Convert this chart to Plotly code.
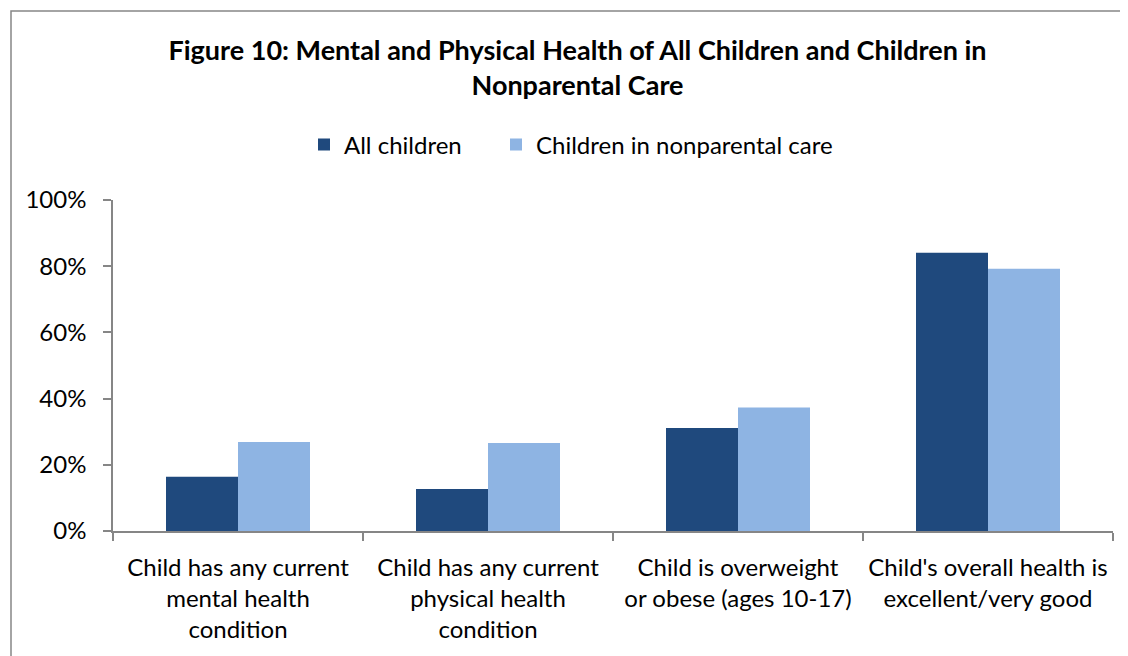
import plotly.graph_objects as go

categories = [
    "Child has any current<br>mental health<br>condition",
    "Child has any current<br>physical health<br>condition",
    "Child is overweight<br>or obese (ages 10-17)",
    "Child's overall health is<br>excellent/very good",
]
all_children = [0.164, 0.127, 0.311, 0.841]
nonparental = [0.269, 0.266, 0.373, 0.792]
series_names = ["All children", "Children in nonparental care"]
colors = ["#1F497D", "#8EB4E3"]
y_ticks = [0, 0.2, 0.4, 0.6, 0.8, 1.0]
y_tick_text = ["0%", "20%", "40%", "60%", "80%", "100%"]
title_text = "Figure 10: Mental and Physical Health of All Children and Children in<br>Nonparental Care"

FONT = "Lato"
AXIS = "#868686"
OFF = 8  # page body margin

fig = go.Figure()
legend_ids = ["legend", "legend2"]
for name, vals, col, lg in zip(series_names, [all_children, nonparental], colors, legend_ids):
    fig.add_trace(go.Bar(x=categories, y=vals, name=name, marker_color=col,
                         marker_line_width=0, legend=lg, showlegend=True))

W, H = 1128, 656
# target screen coords of plot area: x 113-1113, y 200-531
L = 113 - OFF
T = 200 - OFF
R = W - (1113 - OFF)
B = H - (531 - OFF)
pw, ph = W - L - R, H - T - B

def px(xs):
    return (xs - OFF - L) / pw

def py(ys):
    return (H - B - (ys - OFF)) / ph

legend_style = dict(orientation="h", xanchor="left", yanchor="middle",
                    font=dict(family=FONT, size=24), bgcolor="rgba(0,0,0,0)")

fig.update_layout(
    width=W, height=H,
    showlegend=True,
    margin=dict(l=L, r=R, t=T, b=B, autoexpand=False),
    paper_bgcolor="white", plot_bgcolor="white",
    font=dict(family=FONT, size=24, color="#000000"),
    barmode="group", bargap=0.424, bargroupgap=0,
    title=dict(text="<b>" + title_text + "</b>", x=px(577.5), xanchor="center",
               xref="paper", y=1 - 52 / H, yanchor="middle",
               font=dict(family=FONT, size=27, color="#000000")),
    legend=dict(x=px(304), y=py(145), **legend_style),
    legend2=dict(x=px(496), y=py(145), **legend_style),
    xaxis=dict(showline=True, linecolor=AXIS, linewidth=1.5, ticks="outside",
               tickson="boundaries", ticklen=8, tickcolor=AXIS, tickwidth=1.5,
               showgrid=False, tickfont=dict(family=FONT, size=24),
               ticklabelstandoff=14),
    yaxis=dict(range=[0, 1], tickvals=y_ticks, ticktext=y_tick_text,
               showline=True, linecolor=AXIS, linewidth=1.5, ticks="outside",
               ticklen=8, tickcolor=AXIS, tickwidth=1.5, showgrid=False,
               zeroline=False, tickfont=dict(family=FONT, size=24),
               ticklabelstandoff=12),
    shapes=[dict(type="rect", xref="paper", yref="paper",
                 x0=px(11), x1=px(1300), y0=py(11), y1=py(800),
                 line=dict(color=AXIS, width=1.5), fillcolor="rgba(0,0,0,0)",
                 layer="below")],
)

fig.write_html("out.html")
